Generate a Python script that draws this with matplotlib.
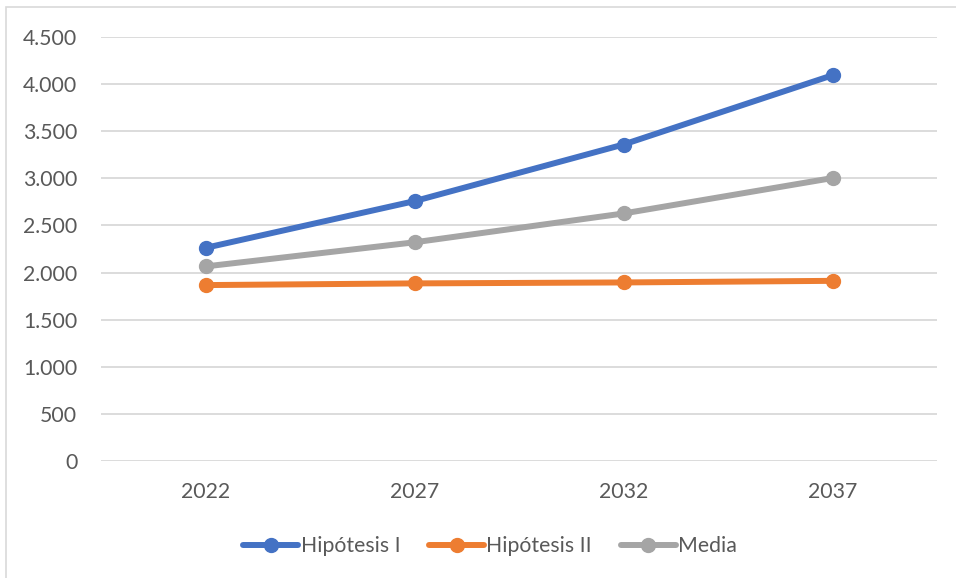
import matplotlib
matplotlib.use("Agg")
import matplotlib.pyplot as plt
from matplotlib.patches import Rectangle
from matplotlib.ticker import FuncFormatter, MultipleLocator

years = ["2022", "2027", "2032", "2037"]
hipotesis_1 = [2262, 2758, 3359, 4094]
hipotesis_2 = [1867, 1885, 1895, 1912]
media = [2065, 2321, 2627, 3003]

series = [
    ("Hipótesis I", hipotesis_1, "#4472C4"),
    ("Hipótesis II", hipotesis_2, "#ED7D31"),
    ("Media", media, "#A5A5A5"),
]

plt.rcParams["font.family"] = ["Lato", "DejaVu Sans"]
text_color = "#595959"
fsize = 15.3

fig = plt.figure(figsize=(9.56, 5.78), dpi=100)
fig.patch.set_facecolor("white")

# chart-area frame
fig.patches.append(Rectangle((6 / 956, -0.05), 1.2, 1 - 7 / 578 + 0.05,
                             transform=fig.transFigure, fill=False,
                             edgecolor="#D9D9D9", linewidth=1.2, zorder=0))

ax = fig.add_axes([101 / 956, 1 - 461 / 578, (937 - 101) / 956, (461 - 37) / 578])
x = list(range(len(years)))
for name, vals, color in series:
    ax.plot(x, vals, color=color, linewidth=4.3, marker="o", markersize=10,
            label=name, solid_capstyle="round", zorder=3)

ax.set_xlim(-0.5, len(years) - 0.5)
ax.set_ylim(0, 4500)
ax.yaxis.set_major_locator(MultipleLocator(500))
ax.yaxis.set_major_formatter(FuncFormatter(lambda v, p: f"{int(v):,}".replace(",", ".")))
ax.set_xticks(x)
ax.set_xticklabels(years)
ax.grid(axis="y", color="#D9D9D9", linewidth=1.3, zorder=0)
ax.set_axisbelow(True)
for s in ax.spines.values():
    s.set_visible(False)
ax.tick_params(axis="both", length=0, labelsize=fsize, colors=text_color)
ax.tick_params(axis="y", pad=17)
ax.tick_params(axis="x", pad=15)

fig.legend(loc="center", bbox_to_anchor=(490 / 956, 1 - 546 / 578), ncol=3,
           frameon=False, fontsize=fsize, labelcolor=text_color,
           handlelength=2.6, handletextpad=0.1, columnspacing=1.35)

fig.savefig("out.png", dpi=100, facecolor="white")
